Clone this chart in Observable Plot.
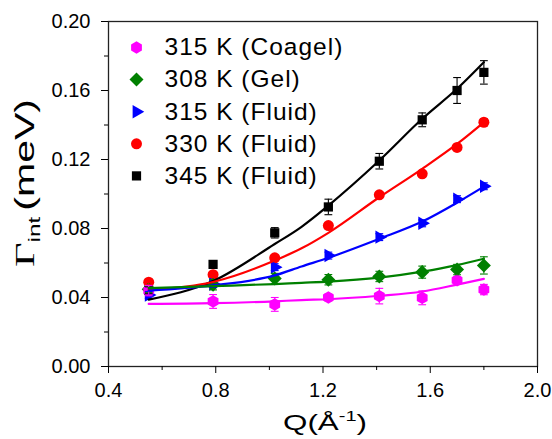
<!DOCTYPE html>
<html>
<head>
<meta charset="utf-8">
<script src="https://cdn.jsdelivr.net/npm/d3@7"></script>
<script src="https://cdn.jsdelivr.net/npm/@observablehq/plot@0.6"></script>
<style>
  body { margin: 0; background: #fff; }
  #chart svg { display: block; }
</style>
</head>
<body>
<div id="chart"></div>
<script>
// Momentum transfer values (Å⁻¹) at which the widths were measured
const Q = [0.55, 0.79, 1.02, 1.22, 1.41, 1.57, 1.70, 1.80];

// Series: name, colour, marker
const seriesNames   = ["315 K (Coagel)", "308 K (Gel)", "315 K (Fluid)", "330 K (Fluid)", "345 K (Fluid)"];
const seriesColors  = ["#ff00ff", "#008000", "#0000ff", "#ff0000", "#000000"];
const seriesSymbols = ["hexagon", "square", "triangle", "circle", "square"];
const seriesRotate  = [0, 45, 90, 0, 0];

// Measured Γ_int (meV) and uncertainties
const gammaCoagel   = [0.0440, 0.0377, 0.0360, 0.0400, 0.0408, 0.0398, 0.0500, 0.0446];
const errCoagel     = [0.003, 0.004, 0.004, 0.002, 0.0045, 0.004, 0.002, 0.003];
const gammaGel      = [0.0448, 0.0474, 0.0510, 0.0503, 0.0522, 0.0547, 0.0562, 0.0586];
const errGel        = [0.002, 0.003, 0.003, 0.003, 0.003, 0.0035, 0.003, 0.005];
const gammaFluid315 = [0.0415, 0.0478, 0.0576, 0.0643, 0.0750, 0.0830, 0.0970, 0.1045];
const errFluid315   = [0.002, 0.002, 0.002, 0.002, 0.002, 0.002, 0.002, 0.002];
const gammaFluid330 = [0.0489, 0.0532, 0.0630, 0.0817, 0.0995, 0.1117, 0.1270, 0.1416];
const errFluid330   = [0.0015, 0.0015, 0.0015, 0.0015, 0.0015, 0.0015, 0.0015, 0.002];
const gammaFluid345 = [0.0442, 0.0592, 0.0775, 0.0925, 0.1190, 0.1430, 0.1600, 0.1705];
const errFluid345   = [0.002, 0.002, 0.003, 0.0045, 0.0045, 0.004, 0.0075, 0.0068];

// Model fit curves
const fitQ          = [0.55, 0.79, 1.02, 1.12, 1.22, 1.41, 1.57, 1.70, 1.80];
const fitCoagel     = [0.0363, 0.0367, 0.0378, 0.0385, 0.0390, 0.0410, 0.0435, 0.0475, 0.0508];
const fitGel        = [0.0454, 0.0466, 0.0478, 0.0485, 0.0492, 0.0515, 0.0550, 0.0588, 0.0625];
const fitFluid315   = [0.0440, 0.0470, 0.0528, 0.0580, 0.0630, 0.0740, 0.0840, 0.0950, 0.1043];
const fitFluid330   = [0.0445, 0.0490, 0.0614, 0.0685, 0.0775, 0.0981, 0.1146, 0.1290, 0.1416];
const fitFluid345   = [0.0388, 0.0495, 0.0710, 0.0810, 0.0933, 0.1194, 0.1436, 0.1610, 0.1764];

// Axis ticks
const xMajor = [0.4, 0.8, 1.2, 1.6, 2.0];
const xMinor = [0.6, 1.0, 1.4, 1.8];
const yMajor = [0.00, 0.04, 0.08, 0.12, 0.16, 0.20];
const yMinor = [0.02, 0.06, 0.10, 0.14, 0.18];

const gammas = [gammaCoagel, gammaGel, gammaFluid315, gammaFluid330, gammaFluid345];
const errors = [errCoagel, errGel, errFluid315, errFluid330, errFluid345];
const fits   = [fitCoagel, fitGel, fitFluid315, fitFluid330, fitFluid345];

const series = seriesNames.map((name, i) => ({
  name,
  color: seriesColors[i],
  symbol: seriesSymbols[i],
  rotate: seriesRotate[i],
  points: Q.map((q, j) => ({Q: q, gamma: gammas[i][j], err: errors[i][j]})),
  fit: fitQ.map((q, j) => ({Q: q, gamma: fits[i][j]}))
}));

// Marker radius per symbol so the shapes have similar visual size
const markerR = {hexagon: 5.4, square: 5.2, triangle: 5.0, circle: 5.5};
const rFor = (s) => s.rotate === 45 ? 5.6 : markerR[s.symbol];

// Short horizontal stroke used as the error-bar cap
const capSymbol = {
  draw(context, size) {
    const w = Math.sqrt(size) / 2;
    context.moveTo(-w, 0);
    context.lineTo(w, 0);
  }
};

const drawOrder = series.slice().reverse();
const marks = [];

// data markers
for (const s of drawOrder) {
  marks.push(Plot.dot(s.points, {
    x: "Q", y: "gamma", symbol: s.symbol, rotate: s.rotate,
    r: rFor(s), fill: s.color, stroke: "none"
  }));
}
// error bars with caps
for (const s of drawOrder) {
  marks.push(Plot.ruleX(s.points, {
    x: "Q", y1: d => d.gamma - d.err, y2: d => d.gamma + d.err,
    stroke: s.color, strokeWidth: 1.1
  }));
  marks.push(Plot.dot(s.points, {
    x: "Q", y: d => d.gamma + d.err, symbol: capSymbol, r: 4.4,
    fill: "none", stroke: s.color, strokeWidth: 1.1
  }));
  marks.push(Plot.dot(s.points, {
    x: "Q", y: d => d.gamma - d.err, symbol: capSymbol, r: 4.4,
    fill: "none", stroke: s.color, strokeWidth: 1.1
  }));
}
// fit curves
for (const s of drawOrder) {
  marks.push(Plot.line(s.fit, {
    x: "Q", y: "gamma", stroke: s.color, strokeWidth: 2.2, curve: "monotone-x"
  }));
}

// legend inside the frame, top-left
series.forEach((s, i) => {
  marks.push(Plot.dot([s], {
    frameAnchor: "top-left", dx: 28, dy: 26 + i * 32.1,
    symbol: s.symbol, rotate: s.rotate, r: rFor(s), fill: s.color, stroke: "none"
  }));
  marks.push(Plot.text([s], {
    frameAnchor: "top-left", dx: 56, dy: 26 + i * 32.1,
    text: "name", textAnchor: "start", lineAnchor: "middle",
    fontSize: 24.5, fill: "#000"
  }));
});

// axes
marks.push(
  Plot.frame({stroke: "#222", strokeWidth: 1.3}),
  Plot.axisX(xMajor, {tickSize: 7, tickPadding: 9, tickFormat: d3.format(".1f"), label: null, fontSize: 20}),
  Plot.axisX(xMinor, {tickSize: 4, tickFormat: () => "", label: null}),
  Plot.axisY(yMajor, {tickSize: 7, tickPadding: 11, tickFormat: d3.format(".2f"), label: null, fontSize: 20}),
  Plot.axisY(yMinor, {tickSize: 4, tickFormat: () => "", label: null})
);

const chart = Plot.plot({
  width: 552,
  height: 439,
  marginLeft: 108,
  marginRight: 15,
  marginTop: 21,
  marginBottom: 73,
  x: {domain: [0.4, 2.0]},
  y: {domain: [0, 0.2]},
  style: {
    fontFamily: "'Liberation Sans', Arial, Helvetica, sans-serif",
    fontSize: "20px",
    color: "#000",
    background: "#fff",
    overflow: "visible"
  },
  marks
});

document.getElementById("chart").appendChild(chart);

const svg = d3.select(chart);
const sans = "'Liberation Sans', Arial, Helvetica, sans-serif";

// slightly wider tracking on the legend entries
svg.selectAll('g[aria-label="text"] text').style("letter-spacing", "1px");

// Axis titles with sub/superscripts
const xt = svg.append("text")
  .attr("x", 325).attr("y", 430)
  .attr("text-anchor", "middle")
  .attr("font-family", sans).attr("font-size", 22).attr("fill", "#000")
  .attr("textLength", 84).attr("lengthAdjust", "spacingAndGlyphs");
xt.append("tspan").text("Q(Å");
xt.append("tspan").attr("font-size", 14).attr("dy", -9).text("-1");
xt.append("tspan").attr("dy", 9).text(")");

const yt = svg.append("text")
  .attr("transform", "translate(34,267) rotate(-90)")
  .attr("text-anchor", "start")
  .attr("font-family", sans).attr("font-size", 27).attr("fill", "#000")
  .attr("textLength", 168).attr("lengthAdjust", "spacingAndGlyphs");
yt.append("tspan").attr("font-family", "'Liberation Serif', 'Times New Roman', serif").attr("font-size", 28).text("Γ");
yt.append("tspan").attr("font-size", 16).attr("dy", 6).text("int");
yt.append("tspan").attr("dy", -6).attr("dx", 4).text("(meV)");
</script>
</body>
</html>
